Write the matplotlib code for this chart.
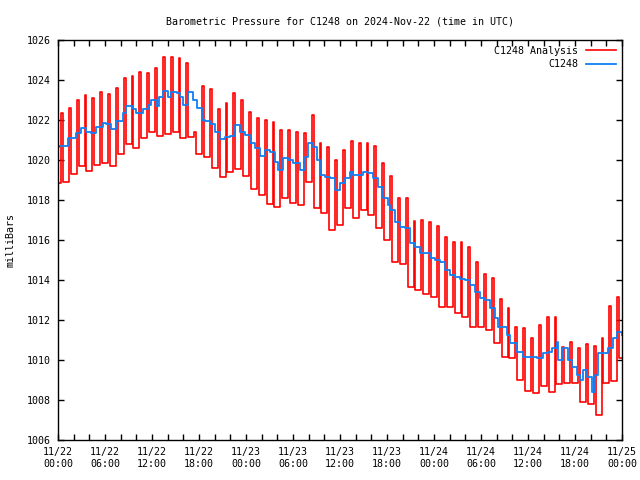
import numpy as np
import matplotlib
matplotlib.use("Agg")
import matplotlib.pyplot as plt
from matplotlib.ticker import MultipleLocator

plt.rcParams['font.family'] = ['DejaVu Sans Mono']

# observed pressure (C1248), time in hours since 11/22 00:00 UTC
obs_hours = [0.0, 0.13, 1.24, 2.30, 2.94, 3.57, 4.21, 4.85, 5.71, 6.13, 6.77, 7.40, 8.26, 8.68,
             9.54, 9.96, 10.81, 11.45, 11.87, 12.51, 12.89, 13.37, 14.00, 14.43, 15.15, 15.57,
             16.00, 16.63, 17.27, 17.71, 18.35, 18.77, 19.40, 20.04, 20.68, 21.32, 21.96, 22.60,
             23.23, 23.87, 24.51, 25.15, 25.79, 26.43, 27.06, 27.70, 28.12, 28.76, 29.40, 30.04,
             30.89, 31.53, 31.95, 32.59, 33.03, 33.45, 34.09, 34.72, 35.36, 36.00, 36.64, 37.28,
             37.70, 38.34, 38.98, 39.61, 40.25, 40.89, 41.53, 42.17, 42.38, 43.02, 43.66, 44.30,
             44.94, 45.58, 46.21, 46.85, 47.49, 48.13, 48.77, 49.41, 50.04, 50.68, 51.32, 51.96,
             52.60, 53.24, 53.87, 54.51, 55.15, 55.79, 56.21, 57.28, 57.70, 58.56, 59.40, 60.26,
             61.11, 61.96, 62.60, 63.03, 63.67, 63.87, 64.51, 65.15, 65.58, 66.22, 66.64, 67.07,
             67.50, 68.13, 68.56, 68.98, 69.62, 70.26, 70.89, 71.32, 71.96, 72.0]
obs_mb = [1020.65, 1020.7, 1021.08, 1021.37, 1021.58, 1021.42, 1021.37, 1021.67, 1021.87, 1021.8,
          1021.53, 1021.95, 1022.33, 1022.7, 1022.53, 1022.37, 1022.53, 1022.75, 1023.0, 1022.7,
          1023.17, 1023.47, 1023.17, 1023.42, 1023.33, 1023.17, 1022.75, 1023.42, 1023.0, 1022.58,
          1022.0, 1021.97, 1021.8, 1021.42, 1021.03, 1021.13, 1021.2, 1021.75, 1021.42, 1021.25,
          1020.83, 1020.58, 1020.2, 1020.5, 1020.42, 1019.9, 1019.5, 1020.08, 1020.0, 1019.83,
          1019.5, 1020.17, 1020.83, 1020.67, 1020.0, 1019.25, 1019.17, 1019.08, 1018.5, 1018.83,
          1019.08, 1019.42, 1019.25, 1019.25, 1019.42, 1019.33, 1019.08, 1018.67, 1018.08, 1017.75,
          1017.5, 1016.92, 1016.67, 1016.58, 1015.83, 1015.67, 1015.33, 1015.33, 1015.08, 1015.0,
          1014.92, 1014.5, 1014.25, 1014.13, 1014.03, 1014.0, 1013.75, 1013.42, 1013.08, 1013.0,
          1012.58, 1012.08, 1011.67, 1011.25, 1010.83, 1010.42, 1010.17, 1010.17, 1010.1, 1010.33,
          1010.42, 1010.58, 1010.92, 1010.0, 1010.58, 1010.0, 1009.67, 1009.25, 1009.0, 1009.5,
          1009.17, 1008.42, 1009.25, 1010.33, 1010.37, 1010.58, 1011.08, 1011.42, 1011.25, 1011.25]

# analysis: value before first hour, then hourly peak and trough
ana_start = 1018.85
ana_hi = [1022.35, 1022.6, 1023.0, 1023.25, 1023.1, 1023.4, 1023.3, 1023.6, 1024.1, 1024.2,
          1024.4, 1024.35, 1024.6, 1025.15, 1025.13, 1025.08, 1024.83, 1021.4, 1023.7, 1023.53,
          1022.53, 1022.87, 1023.33, 1023.0, 1022.4, 1022.1, 1022.0, 1021.9, 1021.5, 1021.5,
          1021.4, 1021.37, 1022.25, 1020.87, 1020.65, 1020.0, 1020.5, 1020.95, 1020.83, 1020.83,
          1020.7, 1019.83, 1019.2, 1018.1, 1018.1, 1016.95, 1017.0, 1016.9, 1016.7, 1016.17,
          1015.9, 1015.9, 1015.67, 1014.9, 1014.3, 1014.1, 1013.03, 1012.58, 1011.67, 1011.58,
          1011.08, 1011.75, 1012.13, 1012.13, 1010.67, 1010.9, 1010.58, 1010.8, 1010.7, 1011.08,
          1012.7, 1013.17]
ana_lo = [1018.9, 1019.3, 1019.7, 1019.45, 1019.75, 1019.85, 1019.7, 1020.3, 1020.8, 1020.6,
          1021.1, 1021.4, 1021.2, 1021.3, 1021.4, 1021.1, 1021.15, 1020.3, 1020.13, 1019.58,
          1019.17, 1019.42, 1019.53, 1019.2, 1018.53, 1018.25, 1017.8, 1017.65, 1018.1, 1017.83,
          1017.75, 1018.9, 1017.58, 1017.33, 1016.5, 1016.75, 1017.58, 1017.08, 1017.5, 1017.25,
          1016.58, 1016.0, 1014.92, 1014.8, 1013.67, 1013.5, 1013.3, 1013.13, 1012.67, 1012.67,
          1012.33, 1012.17, 1011.67, 1011.67, 1011.5, 1010.83, 1010.17, 1010.08, 1009.0, 1008.47,
          1008.33, 1008.72, 1008.4, 1008.8, 1008.83, 1008.83, 1007.92, 1007.8, 1007.25, 1008.83,
          1008.97, 1010.1]

xlabels = ["11/22\n00:00", "11/22\n06:00", "11/22\n12:00", "11/22\n18:00",
           "11/23\n00:00", "11/23\n06:00", "11/23\n12:00", "11/23\n18:00",
           "11/24\n00:00", "11/24\n06:00", "11/24\n12:00", "11/24\n18:00",
           "11/25\n00:00"]

# step series for the analysis line: short peak, long trough each hour
ana_t = [0.0]
ana_v = [ana_start]
for i in range(len(ana_hi)):
    ana_t += [i + 0.4, i + 0.62]
    ana_v += [ana_hi[i], ana_lo[i]]
ana_t.append(72.0)
ana_v.append(ana_lo[-1])

fig = plt.figure(figsize=(6.4, 4.8), dpi=100)
ax = fig.add_axes([58/640, 40/480, 564/640, 400/480])

ax.step(ana_t, ana_v, where='post', color='#ff0000', lw=1.2, label='C1248 Analysis')
ax.step(obs_hours, obs_mb, where='post', color='#0f80f5', lw=1.3, label='C1248')

ax.set_xlim(0, 72)
ax.set_ylim(1006, 1026)
ax.set_xticks(np.arange(0, 73, 6))
ax.set_xticklabels(xlabels)
ax.xaxis.set_minor_locator(MultipleLocator(2))
ax.set_yticks(np.arange(1006, 1027, 2))
ax.tick_params(which='both', direction='in', top=True, right=True, length=4, width=1,
               labelsize=7.2, pad=5)
for s in ax.spines.values():
    s.set_linewidth(1)

ax.set_title("Barometric Pressure for C1248 on 2024-Nov-22 (time in UTC)", fontsize=7.2, pad=11)
ax.set_ylabel("milliBars", fontsize=7.2, labelpad=8)

leg = ax.legend(loc='upper right', frameon=False, fontsize=7.2, markerfirst=False,
                handlelength=3.0, borderaxespad=0.2, labelspacing=0.35, handletextpad=0.8)
leg._legend_box.align = 'right'

fig.savefig("out.png", dpi=100)
